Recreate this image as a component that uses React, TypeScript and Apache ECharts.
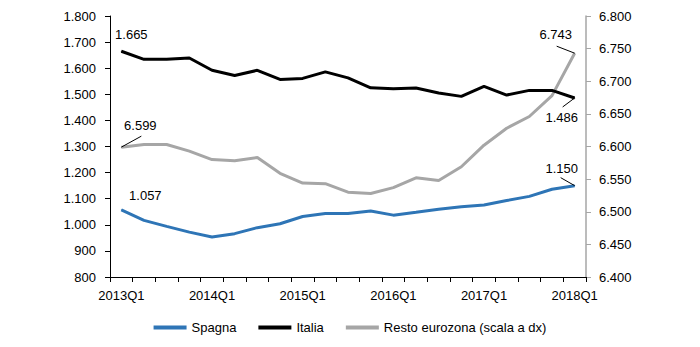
import React, { useEffect, useRef } from "react";
import * as echarts from "echarts";

const categories = [
  "2013Q1", "2013Q2", "2013Q3", "2013Q4",
  "2014Q1", "2014Q2", "2014Q3", "2014Q4",
  "2015Q1", "2015Q2", "2015Q3", "2015Q4",
  "2016Q1", "2016Q2", "2016Q3", "2016Q4",
  "2017Q1", "2017Q2", "2017Q3", "2017Q4",
  "2018Q1",
];

const spagna = [1057, 1017, 994, 972, 953, 966, 989, 1004, 1032, 1043, 1043, 1053, 1037, 1048, 1060, 1069, 1076, 1093, 1109, 1136, 1150];
const italia = [1665, 1634, 1634, 1639, 1592, 1572, 1592, 1557, 1561, 1586, 1563, 1525, 1521, 1524, 1505, 1492, 1530, 1497, 1515, 1515, 1486];
const resto = [6599, 6603, 6603, 6593, 6580, 6578, 6583, 6559, 6544, 6543, 6530, 6528, 6537, 6552, 6548, 6569, 6602, 6628, 6646, 6678, 6743];

const seriesNames = ["Spagna", "Italia", "Resto eurozona (scala a dx)"];
const seriesColors = ["#2e75b6", "#000000", "#a6a6a6"];

const FONT = "'Liberation Sans', Arial, sans-serif";

const fmt = (v: number) => String(Math.round(v)).replace(/\B(?=(\d{3})+(?!\d))/g, ".");

// annotation styling: label offset and optional leader segment (pixel offsets from the point)
type Ann = { idx: number; pos: string; dx: number; dy: number; leader?: [number, number] };

function buildData(values: number[], color: string, anns: Ann[]) {
  return values.map((v, i) => {
    const a = anns.find((x) => x.idx === i);
    if (!a) return { value: v, symbol: "none" };
    return {
      value: v,
      symbol: "circle",
      symbolSize: 1,
      itemStyle: { color },
      label: {
        show: true,
        position: a.pos,
        distance: 5,
        color: "#000",
        fontSize: 13,
        fontFamily: FONT,
        formatter: (p: any) => fmt(p.value),
      },
    };
  });
}

function makeLayout(anns: Ann[]) {
  return (params: any) => {
    const a = anns.find((x) => x.idx === params.dataIndex);
    if (!a) return {};
    return { dx: a.dx, dy: a.dy };
  };
}

export default function App() {
  const ref = useRef<HTMLDivElement>(null);
  useEffect(() => {
    if (!ref.current) return;
    const chart = echarts.init(ref.current, undefined, { renderer: "svg" });
    const last = categories.length - 1;
    const annSp: Ann[] = [
      { idx: 0, pos: "top", dx: 24, dy: -2 },
      { idx: last, pos: "top", dx: -13, dy: -5, leader: [-14, -8] },
    ];
    const annIt: Ann[] = [
      { idx: 0, pos: "top", dx: 10, dy: -5 },
      { idx: last, pos: "bottom", dx: -13, dy: 8, leader: [-12, 9] },
    ];
    const annRe: Ann[] = [
      { idx: 0, pos: "top", dx: 19, dy: -10, leader: [20, -11] },
      { idx: last, pos: "top", dx: -19, dy: -7, leader: [-18, -7] },
    ];
    const allData = [spagna, italia, resto];
    const allAnns = [annSp, annIt, annRe];
    const option: any = {
      animation: false,
      backgroundColor: "#ffffff",
      textStyle: { fontFamily: FONT },
      grid: { left: 110, right: 114, top: 16, bottom: 70, containLabel: false },
      legend: {
        bottom: 8,
        left: "center",
        icon: "rect",
        itemWidth: 33,
        itemHeight: 4,
        itemGap: 22,
        textStyle: { color: "#000", fontSize: 13, fontFamily: FONT },
        data: seriesNames.map((n, i) => ({ name: n, itemStyle: { color: seriesColors[i] } })),
      },
      xAxis: {
        type: "category",
        data: categories,
        boundaryGap: true,
        axisLine: { show: true, lineStyle: { color: "#000", width: 1 } },
        axisTick: { show: true, interval: 0, length: 5, lineStyle: { color: "#000" } },
        axisLabel: { interval: 3, color: "#000", fontSize: 13, fontFamily: FONT, margin: 12 },
        splitLine: { show: false },
      },
      yAxis: [
        {
          type: "value",
          min: 800,
          max: 1800,
          interval: 100,
          position: "left",
          axisLine: { show: true, lineStyle: { color: "#000", width: 1 } },
          axisTick: { show: true, length: 5, lineStyle: { color: "#000" } },
          axisLabel: { color: "#000", fontSize: 13, fontFamily: FONT, margin: 14, formatter: fmt },
          splitLine: { show: false },
        },
        {
          type: "value",
          min: 6400,
          max: 6800,
          interval: 50,
          position: "right",
          axisLine: { show: true, lineStyle: { color: "#a6a6a6", width: 1.5 } },
          axisTick: { show: true, length: 5, lineStyle: { color: "#a6a6a6" } },
          axisLabel: { color: "#000", fontSize: 13, fontFamily: FONT, margin: 13, formatter: fmt },
          splitLine: { show: false },
        },
      ],
      series: seriesNames.map((name, s) => ({
        name,
        type: "line",
        yAxisIndex: s === 2 ? 1 : 0,
        showSymbol: true,
        data: buildData(allData[s], seriesColors[s], allAnns[s]),
        lineStyle: { color: seriesColors[s], width: 3 },
        itemStyle: { color: seriesColors[s] },
        labelLayout: makeLayout(allAnns[s]),
        z: 3 - s,
      })),
    };
    chart.setOption(option);

    // leader lines positioned from the library's own scales
    const leaders: any[] = [];
    allAnns.forEach((anns, s) => {
      anns.forEach((a) => {
        if (!a.leader) return;
        const p = chart.convertToPixel({ seriesIndex: s }, [a.idx, allData[s][a.idx]]) as number[];
        if (!p) return;
        leaders.push({
          type: "line",
          silent: true,
          z: 100,
          shape: { x1: p[0], y1: p[1], x2: p[0] + a.leader[0], y2: p[1] + a.leader[1] },
          style: { stroke: "#000", lineWidth: 1 },
        });
      });
    });
    chart.setOption({ graphic: leaders });
    return () => chart.dispose();
  }, []);
  return (
    <div
      ref={ref}
      style={{ position: "fixed", left: 0, top: 0, width: 700, height: 347, background: "#fff" }}
    />
  );
}
